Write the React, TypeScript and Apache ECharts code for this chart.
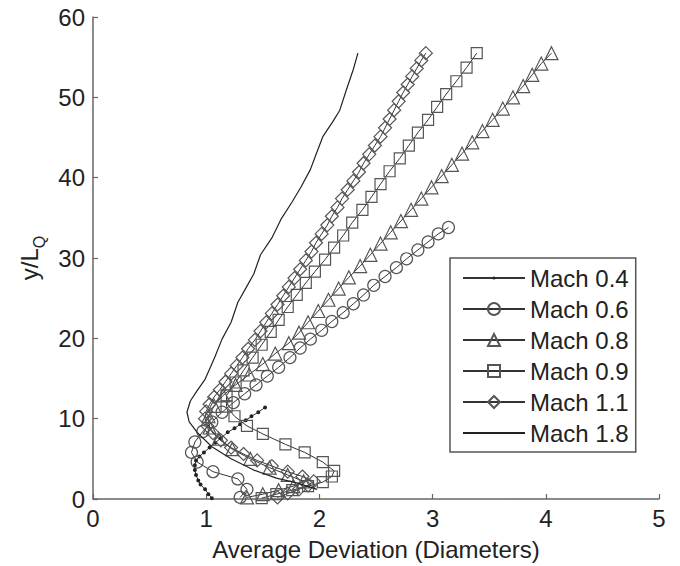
import React, { useEffect, useRef } from "react";
import * as echarts from "echarts";

const seriesNames = ["Mach 0.4", "Mach 0.6", "Mach 0.8", "Mach 0.9", "Mach 1.1", "Mach 1.8"];

const mach04X = [1.05, 1.02, 0.99, 0.95, 0.93, 0.91, 0.90, 0.90, 0.91, 0.94, 0.98, 1.03, 1.08, 1.13, 1.19, 1.25, 1.30, 1.35, 1.40, 1.46, 1.52];
const mach04Y = [0.1, 0.6, 1.2, 1.8, 2.3, 3.0, 3.6, 4.2, 4.8, 5.3, 5.8, 6.4, 7.0, 7.6, 8.3, 8.8, 9.3, 9.8, 10.3, 10.8, 11.4];

const mach06X = [1.30, 1.36, 1.28, 1.06, 0.92, 0.87, 0.90, 0.97, 1.05, 1.14, 1.24, 1.34, 1.44, 1.54, 1.64, 1.74, 1.83, 1.92, 2.02, 2.11, 2.21, 2.30, 2.39, 2.48, 2.58, 2.68, 2.77, 2.87, 2.96, 3.05, 3.14];
const mach06Y = [0.2, 1.2, 2.5, 3.4, 4.6, 5.8, 7.1, 8.4, 9.6, 10.8, 12.0, 13.1, 14.2, 15.3, 16.4, 17.6, 18.8, 19.9, 21.0, 22.1, 23.2, 24.3, 25.4, 26.6, 27.7, 28.8, 29.9, 31.0, 32.0, 33.0, 33.8];

const mach08X = [1.36, 1.50, 1.64, 1.77, 1.86, 1.72, 1.56, 1.39, 1.23, 1.11, 1.03, 1.02, 1.07, 1.15, 1.26, 1.38, 1.50, 1.61, 1.73, 1.82, 1.90, 1.99, 2.08, 2.17, 2.26, 2.36, 2.45, 2.54, 2.63, 2.72, 2.81, 2.90, 2.99, 3.08, 3.17, 3.26, 3.35, 3.44, 3.53, 3.62, 3.71, 3.80, 3.88, 3.96, 4.05];
const mach08Y = [0.2, 0.6, 1.1, 1.6, 2.2, 3.0, 3.9, 5.0, 6.2, 7.5, 8.9, 10.3, 11.6, 12.9, 14.2, 15.5, 16.8, 18.1, 19.4, 20.7, 22.0, 23.4, 24.8, 26.2, 27.6, 29.0, 30.4, 31.8, 33.2, 34.6, 36.0, 37.4, 38.8, 40.2, 41.6, 43.0, 44.4, 45.8, 47.2, 48.6, 50.0, 51.4, 52.8, 54.2, 55.5];

const mach09X = [1.49, 1.62, 1.76, 1.90, 2.03, 2.11, 2.13, 2.03, 1.87, 1.70, 1.50, 1.36, 1.25, 1.18, 1.18, 1.26, 1.33, 1.41, 1.49, 1.57, 1.64, 1.72, 1.80, 1.88, 1.96, 2.05, 2.13, 2.21, 2.29, 2.38, 2.46, 2.54, 2.62, 2.71, 2.79, 2.87, 2.96, 3.04, 3.12, 3.21, 3.30, 3.39];
const mach09Y = [0.1, 0.6, 1.1, 1.6, 2.1, 2.8, 3.5, 4.6, 5.8, 6.8, 8.1, 9.1, 10.3, 11.5, 12.9, 14.5, 16.0, 17.6, 19.2, 20.8, 22.3, 23.9, 25.4, 26.9, 28.3, 29.8, 31.3, 32.8, 34.4, 36.0, 37.6, 39.2, 40.8, 42.4, 44.0, 45.6, 47.2, 48.8, 50.4, 52.0, 53.7, 55.5];

const mach11X = [1.63, 1.72, 1.82, 1.90, 1.95, 1.85, 1.72, 1.58, 1.45, 1.33, 1.22, 1.13, 1.06, 1.01, 0.99, 1.00, 1.03, 1.07, 1.12, 1.17, 1.22, 1.27, 1.32, 1.37, 1.43, 1.48, 1.53, 1.58, 1.63, 1.68, 1.73, 1.78, 1.83, 1.88, 1.93, 1.97, 2.02, 2.07, 2.11, 2.16, 2.20, 2.25, 2.30, 2.35, 2.39, 2.44, 2.49, 2.54, 2.58, 2.62, 2.66, 2.70, 2.74, 2.78, 2.82, 2.86, 2.90, 2.94];
const mach11Y = [0.2, 0.7, 1.2, 1.7, 2.2, 2.8, 3.4, 4.1, 4.8, 5.6, 6.4, 7.3, 8.2, 9.1, 10.0, 10.9, 11.8, 12.7, 13.6, 14.6, 15.6, 16.6, 17.6, 18.7, 19.8, 20.9, 22.0, 23.1, 24.2, 25.3, 26.4, 27.5, 28.6, 29.7, 30.8, 31.9, 33.0, 34.1, 35.2, 36.3, 37.4, 38.5, 39.6, 40.7, 41.8, 42.9, 44.0, 45.1, 46.2, 47.3, 48.4, 49.5, 50.6, 51.6, 52.6, 53.6, 54.6, 55.5];

const mach18X = [1.98, 1.80, 1.62, 1.42, 1.22, 1.05, 0.92, 0.85, 0.83, 0.86, 0.92, 0.99, 1.04, 1.08, 1.14, 1.22, 1.28, 1.36, 1.42, 1.48, 1.58, 1.66, 1.76, 1.84, 1.92, 1.96, 2.03, 2.12, 2.18, 2.24, 2.30, 2.34];
const mach18Y = [1.2, 2.0, 2.6, 3.6, 5.0, 6.5, 8.3, 9.6, 10.8, 12.2, 13.5, 14.9, 16.5, 17.8, 19.9, 22.0, 24.5, 26.5, 28.0, 30.4, 32.5, 34.8, 37.0, 38.9, 41.0, 42.5, 45.1, 47.0, 48.4, 51.0, 53.5, 55.5];

const FONT = "'Liberation Sans', Arial, Helvetica, sans-serif";
const LINE = "#333333";
const MARK = "#555555";
// small centred dot inside an invisible square bounding box
const DOT = "path://M0,0L0.01,0L0,0.01Z M20,20L19.99,20L20,19.99Z M7.5,10A2.5,2.5 0 1,1 12.5,10A2.5,2.5 0 1,1 7.5,10Z";

function zip(xs: number[], ys: number[]) {
  return xs.map((x, i) => [x, ys[i]]);
}

export default function App() {
  const ref = useRef<HTMLDivElement>(null);
  useEffect(() => {
    if (!ref.current) return;
    const chart = echarts.init(ref.current, null, { renderer: "svg" });
    const markerSeries = (name: string, xs: number[], ys: number[], symbol: string, size: number, filled = false) => ({
      name,
      type: "line",
      data: zip(xs, ys),
      symbol,
      symbolSize: size,
      showAllSymbol: true,
      lineStyle: { color: LINE, width: 1 },
      itemStyle: filled
        ? { color: "#222", borderColor: "#222", borderWidth: 0 }
        : { color: "rgba(255,255,255,0)", borderColor: MARK, borderWidth: 1.2 },
      z: 2,
    });
    chart.setOption({
      animation: false,
      backgroundColor: "#ffffff",
      grid: { left: 93, right: 21, top: 17, bottom: 66, containLabel: false },
      xAxis: {
        type: "value",
        min: 0,
        max: 5,
        interval: 1,
        name: "Average Deviation (Diameters)",
        nameLocation: "middle",
        nameGap: 38,
        nameTextStyle: { fontFamily: FONT, fontSize: 24, color: "#222" },
        axisLine: { show: true, onZero: false, lineStyle: { color: "#666", width: 1.5 } },
        axisTick: { show: true, inside: true, length: 5, lineStyle: { color: "#666", width: 1.2 } },
        axisLabel: { fontFamily: FONT, fontSize: 24, color: "#222", margin: 7 },
        splitLine: { show: false },
      },
      yAxis: {
        type: "value",
        min: 0,
        max: 60,
        interval: 10,
        name: "{y|y/L}{q|Q}",
        nameLocation: "middle",
        nameRotate: 90,
        nameGap: 40,
        nameTextStyle: {
          fontFamily: FONT,
          color: "#222",
          rich: {
            y: { fontFamily: FONT, fontSize: 24, color: "#222", lineHeight: 24, verticalAlign: "top" },
            q: { fontFamily: FONT, fontSize: 16, color: "#222", lineHeight: 16, padding: [14, 0, 0, 0], verticalAlign: "top" },
          },
        },
        axisLine: { show: true, onZero: false, lineStyle: { color: "#666", width: 1.5 } },
        axisTick: { show: true, inside: true, length: 5, lineStyle: { color: "#666", width: 1.2 } },
        axisLabel: { fontFamily: FONT, fontSize: 24, color: "#222", margin: 8 },
        splitLine: { show: false },
      },
      legend: {
        data: [
          seriesNames[0],
          seriesNames[1],
          seriesNames[2],
          seriesNames[3],
          seriesNames[4],
          { name: seriesNames[5], itemStyle: { color: "rgba(0,0,0,0)", borderWidth: 0, opacity: 0 } },
        ],
        orient: "vertical",
        left: 450,
        top: 258,
        width: 189,
        padding: [8, 7, 7, 12],
        itemWidth: 62,
        itemHeight: 15,
        itemGap: 7,
        borderColor: "#555",
        borderWidth: 1.5,
        backgroundColor: "#ffffff",
        textStyle: { fontFamily: FONT, fontSize: 24, color: "#222", lineHeight: 24 },
      },
      series: [
        markerSeries(seriesNames[0], mach04X, mach04Y, DOT, 16, true),
        markerSeries(seriesNames[1], mach06X, mach06Y, "circle", 12),
        markerSeries(seriesNames[2], mach08X, mach08Y, "triangle", 13),
        markerSeries(seriesNames[3], mach09X, mach09Y, "rect", 11),
        markerSeries(seriesNames[4], mach11X, mach11Y, "diamond", 13),
        {
          name: seriesNames[5],
          type: "line",
          data: zip(mach18X, mach18Y),
          symbol: "none",
          lineStyle: { color: "#222", width: 1.2 },
          itemStyle: { color: "#222" },
          z: 3,
        },
      ],
    });
    return () => chart.dispose();
  }, []);
  return (
    <div
      ref={ref}
      style={{ position: "fixed", left: 0, top: 0, width: 680, height: 566, background: "#fff" }}
    />
  );
}
